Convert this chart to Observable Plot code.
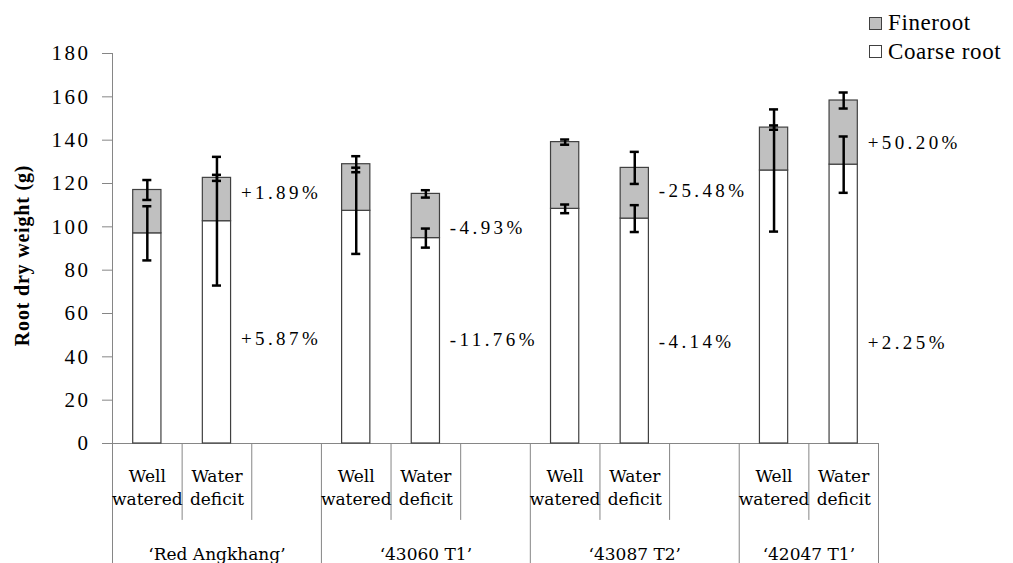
<!DOCTYPE html>
<html>
<head>
<meta charset="utf-8">
<script src="https://cdn.jsdelivr.net/npm/d3@7"></script>
<script src="https://cdn.jsdelivr.net/npm/@observablehq/plot@0.6"></script>
<style>
  body { margin: 0; background: #fff; }
  #wrap { position: relative; width: 1013px; height: 563px; overflow: hidden; font-family: "Liberation Serif", "Times New Roman", serif; }
  #wrap svg g[font-size="21"] text { letter-spacing: 2.5px; }
  #wrap svg g[font-size="19"] text { letter-spacing: 3.4px; }
  #wrap svg g[font-size="20"] text { letter-spacing: 0.8px; }
  .legend { position: absolute; left: 869px; top: 9px; font-family: "Liberation Serif", serif; font-size: 23px; letter-spacing: 0.6px; }
  .legend .row { display: flex; align-items: center; height: 28.5px; white-space: nowrap; }
  .legend .sw { width: 11px; height: 11px; border: 1px solid #404040; margin-right: 6px; box-sizing: content-box; }
</style>
</head>
<body>
<div id="wrap"></div>
<script>
// ---- data ----
const genotypes = ["‘Red Angkhang’", "‘43060 T1’", "‘43087 T2’", "‘42047 T1’"];
const treatments = ["Well\nwatered", "Water\ndeficit"];
const seriesNames = ["Fineroot", "Coarse root"];
// per bar, in order genotype × treatment
const coarseRoot = [97, 102.6, 107.4, 94.8, 108.3, 103.8, 126, 128.7];
const fineRoot   = [20, 20, 21.5, 20.4, 30.8, 23.4, 19.8, 29.6];
const coarseErr  = [12.5, 29.7, 19.9, 4.4, 2, 6.2, 28.2, 13];
const fineErr    = [4.6, 1.4, 3.7, 1.7, 1.2, 7.4, 1, 3.7];
// percentage change labels (water deficit vs well watered)
const fineChange   = ["+1.89%", "-4.93%", "-25.48%", "+50.20%"];
const coarseChange = ["+5.87%", "-11.76%", "-4.14%", "+2.25%"];
// value level (g) at which each change label sits
const fineChangeAt   = [115.8, 99.4, 116.8, 138.6];
const coarseChangeAt = [48.5, 47.9, 46.8, 46.3];
const yTicks = [0, 20, 40, 60, 80, 100, 120, 140, 160, 180];

// ---- build tables ----
const slotsPerGroup = 3; // two treatments + one empty slot
const nSlots = genotypes.length * slotsPerGroup - 1;
const rows = [];
genotypes.forEach((g, gi) => treatments.forEach((t, ti) => {
  const k = gi * treatments.length + ti;
  rows.push({
    genotype: g, treatment: t, slot: gi * slotsPerGroup + ti,
    coarse: coarseRoot[k], fine: fineRoot[k], total: coarseRoot[k] + fineRoot[k],
    ce: coarseErr[k], fe: fineErr[k]
  });
}));
const caps = rows.flatMap(d => [
  {slot: d.slot, v: d.coarse - d.ce}, {slot: d.slot, v: d.coarse + d.ce},
  {slot: d.slot, v: d.total - d.fe}, {slot: d.slot, v: d.total + d.fe}
]);
const groups = genotypes.map((g, gi) => ({
  name: g, start: gi * slotsPerGroup, end: Math.min(gi * slotsPerGroup + slotsPerGroup, nSlots)
}));
const boundaries = d3.range(0, nSlots + 1);
const groupBounds = boundaries.filter(b => b % slotsPerGroup === 0 || b === nSlots);
const innerBounds = boundaries.filter(b => !(b % slotsPerGroup === 0 || b === nSlots));
const changeRows = genotypes.flatMap((g, gi) => [
  {slot: gi * slotsPerGroup + 1, y: fineChangeAt[gi], text: fineChange[gi]},
  {slot: gi * slotsPerGroup + 1, y: coarseChangeAt[gi], text: coarseChange[gi]}
]);

const CAP = 0.065;        // half cap width in slot units
const ROW1 = -35.5;       // depth of treatment row lines (y units below axis)
const ROW2 = -60;         // depth of genotype row lines
const grid = "#868686";
const edge = "#404040";
const serif = "'Liberation Serif', 'Times New Roman', serif";
const catFont = "'DejaVu Serif', serif";

const chart = Plot.plot({
  width: 1013,
  height: 563,
  marginTop: 53,
  marginBottom: 120,
  marginLeft: 112,
  marginRight: 135,
  x: {domain: [0, nSlots], axis: null},
  y: {domain: [0, 180]},
  style: {fontFamily: serif, background: "white", overflow: "visible", color: "black"},
  marks: [
    Plot.axisY({ticks: yTicks, tickSize: 10, tickPadding: 12, fontSize: 21, fontFamily: serif, stroke: grid, label: null}),
    Plot.ruleX([0], {stroke: grid, strokeWidth: 1}),
    Plot.ruleY([0], {stroke: grid, strokeWidth: 1}),
    // category table lines below the axis
    Plot.ruleX(innerBounds, {x: d => d, y1: 0, y2: ROW1, stroke: grid}),
    Plot.ruleX(groupBounds, {x: d => d, y1: 0, y2: ROW2, stroke: grid}),
    // stacked bars
    Plot.rectY(rows, {x1: "slot", x2: d => d.slot + 1, y1: 0, y2: "coarse", fill: "white", stroke: edge, strokeWidth: 1.2, insetLeft: 20.7, insetRight: 20.7}),
    Plot.rectY(rows, {x1: "slot", x2: d => d.slot + 1, y1: "coarse", y2: "total", fill: "#c0c0c0", stroke: edge, strokeWidth: 1.2, insetLeft: 20.7, insetRight: 20.7}),
    // error bars
    Plot.ruleX(rows, {x: d => d.slot + 0.5, y1: d => d.coarse - d.ce, y2: d => d.coarse + d.ce, stroke: "black", strokeWidth: 2.5}),
    Plot.ruleX(rows, {x: d => d.slot + 0.5, y1: d => d.total - d.fe, y2: d => d.total + d.fe, stroke: "black", strokeWidth: 2.5}),
    Plot.ruleY(caps, {x1: d => d.slot + 0.5 - CAP, x2: d => d.slot + 0.5 + CAP, y: "v", stroke: "black", strokeWidth: 2.5}),
    // change labels
    Plot.text(changeRows, {x: d => d.slot + 0.5, y: "y", text: "text", textAnchor: "start", dx: 24, fontSize: 19, fontFamily: serif, fill: "black"}),
    // category labels
    Plot.text(rows, {x: d => d.slot + 0.5, text: "treatment", frameAnchor: "bottom", dy: 61, lineHeight: 1.35, fontSize: 17, fontFamily: catFont, fill: "black"}),
    Plot.text(groups, {x: d => (d.start + d.end) / 2, text: "name", frameAnchor: "bottom", dy: 116, fontSize: 17, fontFamily: catFont, fill: "black"}),
    // y title
    Plot.text(["Root dry weight (g)"], {frameAnchor: "left", rotate: -90, textAnchor: "middle", dx: -90, dy: 7, fontSize: 20, fontFamily: serif, fontWeight: "bold", fill: "black"})
  ]
});

const wrap = document.getElementById("wrap");
wrap.appendChild(chart);

// legend
const legend = document.createElement("div");
legend.className = "legend";
const fills = {"Fineroot": "#c0c0c0", "Coarse root": "white"};
seriesNames.forEach(n => {
  const r = document.createElement("div");
  r.className = "row";
  const sw = document.createElement("div");
  sw.className = "sw";
  sw.style.background = fills[n];
  r.appendChild(sw);
  r.appendChild(document.createTextNode(n));
  legend.appendChild(r);
});
wrap.appendChild(legend);
</script>
</body>
</html>
